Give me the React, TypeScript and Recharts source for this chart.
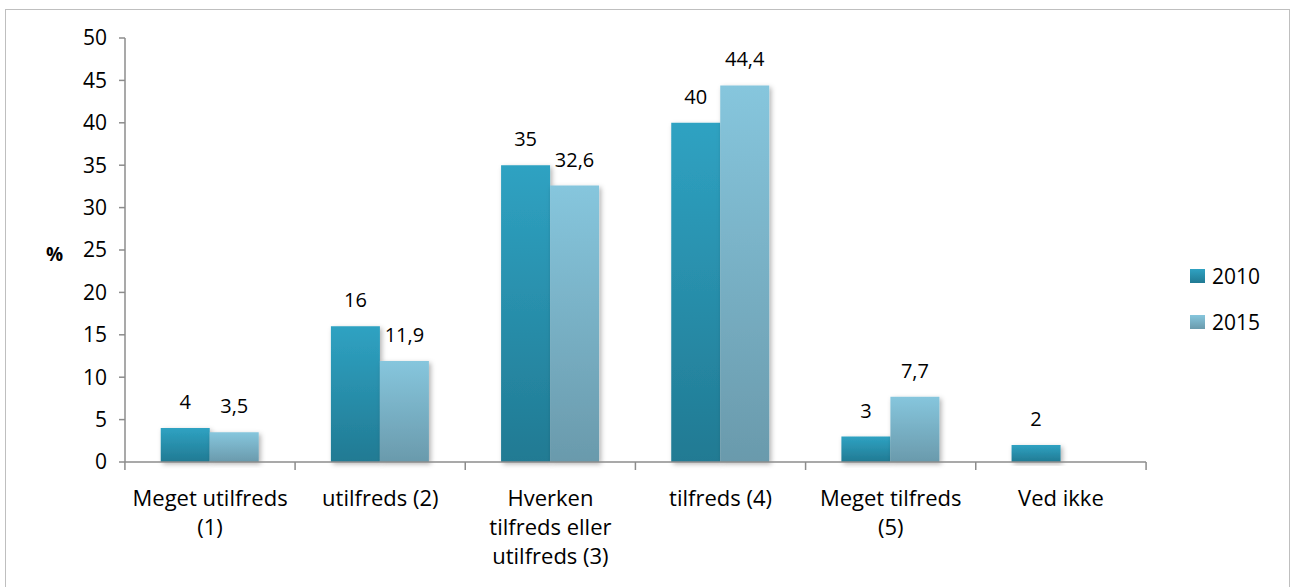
import { BarChart, Bar, XAxis, YAxis, LabelList, Legend } from "recharts";

const categories = [
  "Meget utilfreds (1)",
  "utilfreds (2)",
  "Hverken tilfreds eller utilfreds (3)",
  "tilfreds (4)",
  "Meget tilfreds (5)",
  "Ved ikke",
];
const tickLines = [
  ["Meget utilfreds", "(1)"],
  ["utilfreds (2)"],
  ["Hverken", "tilfreds eller", "utilfreds (3)"],
  ["tilfreds (4)"],
  ["Meget tilfreds", "(5)"],
  ["Ved ikke"],
];
const values2010 = [4, 16, 35, 40, 3, 2];
const values2015: (number | null)[] = [3.5, 11.9, 32.6, 44.4, 7.7, null];
const yTicks = [0, 5, 10, 15, 20, 25, 30, 35, 40, 45, 50];

const data = categories.map((name, i) => ({
  name,
  y2010: values2010[i],
  y2015: values2015[i],
}));

const FONT = "'Open Sans', sans-serif";
const BAND = 1022 / categories.length;

const fmt = (v: any) => (v == null ? "" : String(v).replace(".", ","));

function CatTick(props: any) {
  const { x, y, payload, index } = props;
  const lines: string[] = tickLines[index] ?? [payload.value];
  const left = x - BAND / 2;
  return (
    <g>
      <line x1={left} y1={y - 8} x2={left} y2={y} stroke="#8c8c8c" strokeWidth={1.5} />
      {index === categories.length - 1 && (
        <line x1={left + BAND} y1={y - 8} x2={left + BAND} y2={y} stroke="#8c8c8c" strokeWidth={1.5} />
      )}
      <text x={x} y={y + 36} textAnchor="middle" fontSize={22} fontFamily={FONT} fill="#000">
        {lines.map((l, i) => (
          <tspan key={i} x={x} dy={i === 0 ? 0 : 29}>
            {l}
          </tspan>
        ))}
      </text>
    </g>
  );
}

function LegendBox() {
  const items = [
    { label: "2010", top: "#2fa2c2", bottom: "#217a93" },
    { label: "2015", top: "#86c6dd", bottom: "#6a9aac" },
  ];
  return (
    <div style={{ fontFamily: FONT, fontSize: 21 }}>
      {items.map((it, i) => (
        <div key={it.label} style={{ display: "flex", alignItems: "center", height: 46 }}>
          <svg width={15} height={14} style={{ marginRight: 7 }}>
            <defs>
              <linearGradient id={`lg${i}`} x1="0" y1="0" x2="0" y2="1">
                <stop offset="0%" stopColor={it.top} />
                <stop offset="100%" stopColor={it.bottom} />
              </linearGradient>
            </defs>
            <rect width={15} height={14} fill={`url(#lg${i})`} />
          </svg>
          <span>{it.label}</span>
        </div>
      ))}
    </div>
  );
}

export default function App() {
  return (
    <div
      style={{
        position: "absolute",
        left: 5,
        top: 9,
        width: 1283,
        height: 600,
        border: "1px solid #bfbfbf",
        background: "#fff",
        overflow: "hidden",
      }}
    >
      <div
        style={{
          position: "absolute",
          left: 40,
          top: 231,
          fontFamily: FONT,
          fontSize: 19,
          fontWeight: 700,
        }}
      >
        %
      </div>
      <BarChart
        width={1283}
        height={580}
        data={data}
        margin={{ top: 28, right: 53, left: 39, bottom: 28 }}
        barGap={0}
        barCategoryGap="21%"
      >
        <defs>
          <linearGradient id="g2010" x1="0" y1="0" x2="0" y2="1">
            <stop offset="0%" stopColor="#2fa2c2" />
            <stop offset="100%" stopColor="#217a93" />
          </linearGradient>
          <linearGradient id="g2015" x1="0" y1="0" x2="0" y2="1">
            <stop offset="0%" stopColor="#86c6dd" />
            <stop offset="100%" stopColor="#6a9aac" />
          </linearGradient>
          <filter id="shadow" x="-20%" y="-20%" width="140%" height="140%">
            <feDropShadow dx={2} dy={2} stdDeviation={2.5} floodColor="#000" floodOpacity={0.3} />
          </filter>
        </defs>
        <XAxis
          dataKey="name"
          height={100}
          interval={0}
          tickLine={false}
          axisLine={{ stroke: "#8c8c8c", strokeWidth: 1.5 }}
          tick={<CatTick />}
        />
        <YAxis
          width={80}
          domain={[0, 50]}
          ticks={yTicks}
          interval={0}
          tickSize={6}
          tickMargin={12}
          axisLine={{ stroke: "#8c8c8c", strokeWidth: 1.5 }}
          tickLine={{ stroke: "#8c8c8c", strokeWidth: 1.5 }}
          tick={{ fontSize: 21, fontFamily: FONT, fill: "#000" }}
        />
        <Legend
          layout="vertical"
          align="right"
          verticalAlign="top"
          content={<LegendBox />}
          wrapperStyle={{ position: "absolute", left: 1184, top: 243, width: 90 }}
        />
        <Bar dataKey="y2010" name="2010" fill="url(#g2010)" filter="url(#shadow)" isAnimationActive={false}>
          <LabelList
            dataKey="y2010"
            position="top"
            offset={19}
            formatter={fmt}
            style={{ fontSize: 20, fontFamily: FONT, fill: "#000" }}
          />
        </Bar>
        <Bar dataKey="y2015" name="2015" fill="url(#g2015)" filter="url(#shadow)" isAnimationActive={false}>
          <LabelList
            dataKey="y2015"
            position="top"
            offset={19}
            formatter={fmt}
            style={{ fontSize: 20, fontFamily: FONT, fill: "#000" }}
          />
        </Bar>
      </BarChart>
    </div>
  );
}
